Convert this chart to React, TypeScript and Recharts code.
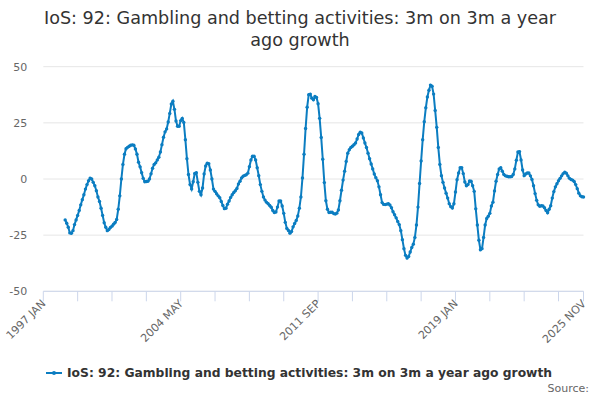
import { CartesianGrid, Line, LineChart, XAxis, YAxis } from "recharts";

const monthNames = ["JAN", "FEB", "MAR", "APR", "MAY", "JUN", "JUL", "AUG", "SEP", "OCT", "NOV", "DEC"];
const firstYear = 1997;
const lastMonth = "2025 NOV";
const firstValueMonth = "1998 MAR";

// 3m on 3m a year ago growth (%), monthly from 1998 MAR to 2025 NOV
const growth = [
  // 1998 (from MAR)
  -18.2, -19.7, -21.5, -24, -24.2, -23, -20.3, -18.2, -16.2, -14,
  // 1999
  -11.5, -9.2, -7, -4.5, -2.5, -0.8, 0.4, 0, -1.5, -3, -5.2, -8,
  // 2000
  -10, -13, -16.2, -19.5, -21.5, -23, -22.5, -21.6, -21, -20.1, -19.4, -18,
  // 2001
  -13.5, -7.5, 0, 6.5, 11, 13.5, 14.1, 14.6, 15, 15.2, 15, 13.4,
  // 2002
  11, 7.5, 5.4, 2.8, 0.3, -1.2, -1.1, -1, 0, 2.3, 4.8, 6.5,
  // 2003
  7.2, 8.5, 9.7, 12, 15.3, 18.6, 21, 22.3, 25.4, 29.2, 33.4, 34.6,
  // 2004
  31, 25.8, 23.5, 23.5, 26, 27, 25.2, 17.5, 9, 2, -2.5, -4.4,
  // 2005
  -1.2, 2.5, 2.8, -1.5, -5.5, -7, -4, 2.2, 5.8, 7, 6.8, 4,
  // 2006
  0, -4.5, -5.5, -6.6, -7.5, -8.3, -10, -11.8, -13.2, -13, -11.2, -9.8,
  // 2007
  -8.2, -7, -6, -5.2, -4.2, -2.2, -1, 0.5, 1.2, 1.6, 1.9, 2.6,
  // 2008
  5.5, 8.5, 10.1, 10.1, 8.5, 5, 1.5, -2.5, -5.5, -8, -9.4, -10.4,
  // 2009
  -11, -11.8, -12.6, -14, -14.9, -14.7, -12.5, -9.8, -9.8, -12, -15.3, -19.3,
  // 2010
  -22, -22.9, -24.1, -23.4, -21.3, -19.8, -18.5, -16.5, -13, -8, 0.5, 11,
  // 2011
  22.5, 32, 37.5, 37.8, 36, 35.3, 36.7, 36.3, 33.5, 27, 18.5, 8.8,
  // 2012
  -1.6, -9.7, -13.5, -14.9, -14.8, -14.8, -15.4, -15.6, -15.2, -13.8, -9.7, -5,
  // 2013
  -0.5, 3.5, 7.8, 11.5, 13, 14, 14.6, 15.3, 16, 17.8, 19.8, 20.8,
  // 2014
  20.5, 18.3, 16, 14, 11.5, 9, 6.7, 4.5, 2.2, 0.6, -0.8, -3.5,
  // 2015
  -7, -10.5, -11.3, -11.4, -11.2, -11, -11.6, -12.8, -14.6, -15.9, -17.3, -18.9,
  // 2016
  -20.3, -23, -27, -31, -34, -35.2, -34.5, -32.5, -30.5, -29, -26, -20.5,
  // 2017
  -12.5, -2, 8, 17.5, 25.5, 31.7, 36.5, 39.5, 41.8, 41.3, 37.8, 30.5,
  // 2018
  23, 14, 6.5, 1.5, -1.5, -4, -6.3, -8.5, -11, -12.3, -12.9, -11,
  // 2019
  -5.8, -0.3, 2.7, 5, 5, 2.4, -1.3, -3, -2.5, -0.9, -1, -3,
  // 2020
  -5.5, -13.3, -20.5, -27.3, -31.5, -31, -26, -20.5, -17.6, -16.6, -15.3, -12,
  // 2021
  -10.3, -5.3, -1, 2, 4.5, 5, 3.5, 2, 1.4, 1.2, 1, 1,
  // 2022
  1.1, 2, 4.5, 8.4, 12, 12.2, 8.5, 4, 1.5, 2.2, 2.7, 2.7,
  // 2023
  1.4, -0.2, -3, -6.5, -9.5, -11.5, -12.1, -11.9, -12, -12.8, -14, -15,
  // 2024
  -13.5, -11.9, -8.5, -5.6, -3.5, -2.1, -0.8, 0.3, 1.4, 2.4, 3, 2.6,
  // 2025 (to NOV)
  1.4, 0.3, -0.2, -0.5, -1.1, -2.5, -4.3, -6.3, -7.5, -7.9, -8,
];

const labelledTicks = ["1997 JAN", "2004 MAY", "2011 SEP", "2019 JAN", "2025 NOV"];
const tickEvery = 22;
const yTicks = [-50, -25, 0, 25, 50];

const seriesName = "IoS: 92: Gambling and betting activities: 3m on 3m a year ago growth";
const lineColor = "#0b7dc1";
const font = "'DejaVu Sans', sans-serif";

const months: string[] = [];
for (let year = firstYear; months[months.length - 1] !== lastMonth; year++) {
  for (const m of monthNames) {
    months.push(`${year} ${m}`);
    if (`${year} ${m}` === lastMonth) break;
  }
}

const startIndex = months.indexOf(firstValueMonth);
const data = months.map((month, i) => ({
  month,
  growth: i >= startIndex ? growth[i - startIndex] : null,
}));

const axisTicks = months.filter((_, i) => i % tickEvery === 0 || i === months.length - 1);

function MonthTick({ x, y, payload }: { x?: number; y?: number; payload?: { value: string } }) {
  if (!payload || !labelledTicks.includes(payload.value)) return <g />;
  const tx = (x ?? 0) + 3;
  const ty = (y ?? 0) + 1;
  return (
    <text
      x={tx}
      y={ty}
      transform={`rotate(-45 ${tx} ${ty})`}
      textAnchor="end"
      fill="#666666"
      fontSize={11}
      fontFamily={font}
    >
      {payload.value}
    </text>
  );
}

export default function App() {
  return (
    <div style={{ position: "absolute", left: 0, top: 0, width: 600, height: 400, background: "#fff", fontFamily: font }}>
      <div
        style={{
          position: "absolute",
          left: 0,
          top: 7,
          width: 600,
          textAlign: "center",
          fontSize: 17.6,
          lineHeight: "22px",
          color: "#333333",
        }}
      >
        IoS: 92: Gambling and betting activities: 3m on 3m a year
        <br />
        ago growth
      </div>
      <LineChart width={600} height={400} data={data} margin={{ top: 66.7, right: 16.5, left: 8.3, bottom: 48.7 }}>
        <CartesianGrid stroke="#e6e6e6" vertical={false} />
        <XAxis
          dataKey="month"
          ticks={axisTicks}
          interval={0}
          tick={<MonthTick />}
          tickSize={10}
          height={60}
          stroke="#ccd6eb"
          tickLine={{ stroke: "#ccd6eb" }}
          axisLine={{ stroke: "#ccd6eb" }}
        />
        <YAxis
          domain={[-50, 50]}
          ticks={yTicks}
          width={35}
          axisLine={false}
          tickLine={false}
          tickMargin={10}
          tick={{ fill: "#666666", fontSize: 11, fontFamily: font }}
        />
        <Line
          type="linear"
          dataKey="growth"
          name={seriesName}
          stroke={lineColor}
          strokeWidth={2}
          dot={{ r: 1.7, fill: lineColor, stroke: lineColor, strokeWidth: 0 }}
          connectNulls={false}
          isAnimationActive={false}
        />
      </LineChart>
      <div
        style={{
          position: "absolute",
          left: 46,
          top: 365,
          display: "flex",
          alignItems: "center",
          fontSize: 12.3,
          fontWeight: "bold",
          color: "#333333",
        }}
      >
        <svg width={16} height={16} style={{ marginRight: 5 }}>
          <line x1={0} y1={8} x2={16} y2={8} stroke={lineColor} strokeWidth={2} />
          <circle cx={8} cy={8} r={2} fill={lineColor} />
        </svg>
        {seriesName}
      </div>
      <div style={{ position: "absolute", right: 11, top: 382, fontSize: 11, color: "#666666" }}>Source:</div>
    </div>
  );
}
